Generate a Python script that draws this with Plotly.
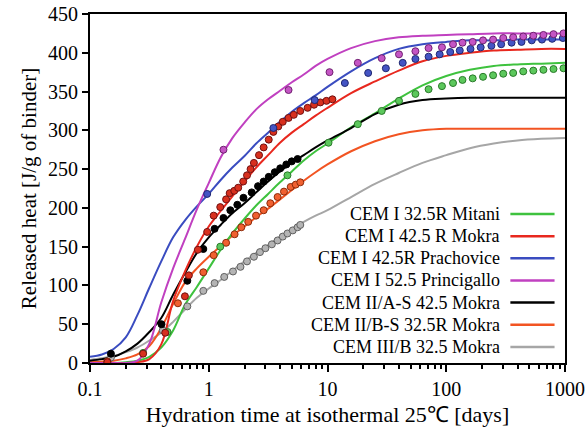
import plotly.graph_objects as go

# ---------------- data ----------------
names = ["CEM I 32.5R Mitani", "CEM I 42.5 R Mokra", "CEM I 42.5R Prachovice",
         "CEM I 52.5 Princigallo", "CEM II/A-S 42.5 Mokra", "CEM II/B-S 32.5R Mokra",
         "CEM III/B 32.5 Mokra"]
line_colors = ["#3ec23e", "#e8281e", "#3a4cc0", "#c040c0", "#000000", "#f25422", "#a6a6a6"]
fill_colors = ["#5cc85c", "#d8301e", "#4454c4", "#c455c4", "#000000", "#f06030", "#b4b4b4"]
edge_colors = ["#2a7a2a", "#701010", "#202870", "#702070", "#000000", "#8a2a0a", "#606060"]

# time grid of the model curves [days]
curve_t = [0.1, 0.126, 0.158, 0.2, 0.251, 0.316, 0.398, 0.501, 0.631, 0.794, 1, 1.26, 1.58, 2, 2.51,
           3.16, 3.98, 5.01, 6.31, 7.94, 10, 15.8, 25.1, 39.8, 63.1, 100, 158, 251, 398, 631, 1000]

# model curves (lines), released heat [J/g]
green_q = [0, 0, 0, 1, 3, 8, 20, 42, 75, 98, 122, 146, 167, 186, 203,
           218, 233, 247, 261, 273, 283, 304, 322, 341, 358, 370, 378, 383, 385, 386, 387]
red_q = [0, 0, 0, 0, 1, 5, 24, 80, 118, 150, 176, 196, 215, 234, 252,
         268, 284, 297, 308, 319, 329, 348, 363, 377, 389, 396, 400, 403, 404, 405, 405]
blue_q = [8, 11, 18, 33, 62, 97, 131, 162, 184, 202, 218, 236, 252, 267, 283,
          297, 311, 324, 335, 345, 356, 376, 393, 405, 411, 414, 416, 416, 417, 417, 417]
mag_q = [0, 0, 0, 0, 3, 25, 78, 122, 160, 198, 232, 265, 290, 310, 327,
         340, 351, 362, 372, 383, 392, 406, 415, 420, 422, 423, 424, 425, 425, 425, 425]
black_q = [3, 5, 8, 15, 25, 40, 58, 88, 116, 142, 162, 178, 193, 206, 220,
           234, 247, 258, 268, 278, 287, 303, 321, 333, 339, 341, 342, 342, 342, 342, 342]
orange_q = [1, 2, 3, 6, 11, 22, 45, 76, 104, 122, 137, 151, 164, 176, 188,
            199, 211, 223, 235, 246, 256, 273, 286, 295, 300, 302, 302, 302, 302, 302, 302]
gray_q = [4, 6, 9, 14, 20, 29, 39, 53, 69, 84, 96, 107, 119, 131, 142,
          152, 163, 173, 182, 190, 197, 214, 231, 245, 258, 268, 277, 283, 287, 289, 290]

# measurements (markers)
green_mt = [0.28, 0.45, 1.25, 4.6, 10.2, 18, 28.6, 40, 55, 71, 92, 114, 137, 167, 204, 248, 302, 366, 445, 541, 658, 800, 971]
green_mq = [13, 40, 150, 242, 284, 308, 325, 338, 347, 353, 357, 361, 365, 367, 369, 371, 373, 374, 376, 377, 378, 379, 380]

red_mt = [0.14, 0.28, 0.43, 0.63, 0.68, 0.81, 0.97, 1.1, 1.25, 1.4, 1.5, 1.64, 1.77, 1.95, 2.1, 2.25, 2.4, 2.65, 2.9, 3.2, 3.5, 3.85, 4.2, 4.7, 5.2, 5.9, 6.8, 7.7, 8.7, 9.8, 11]
red_mq = [1, 12, 39, 86, 113, 146, 169, 190, 201, 211, 219, 222, 226, 234, 242, 250, 258, 268, 278, 288, 298, 305, 311, 316, 320, 325, 329, 333, 336, 338, 340]

blue_mt = [0.97, 3.5, 7.8, 14, 22, 31, 43, 55, 71, 88, 108, 130, 160, 195, 240, 290, 355, 430, 525, 640, 780, 960]
blue_mq = [218, 303, 339, 361, 374, 380, 387, 392, 395, 398, 401, 403, 405, 407, 409, 411, 413, 414, 416, 417, 418, 419]

mag_mt = [1.33, 4.7, 10.4, 18, 28.6, 40, 55, 71, 92, 114, 137, 167, 204, 248, 302, 366, 445, 541, 658, 800, 971]
mag_mq = [275, 352, 375, 387, 393, 398, 402, 406, 407, 411, 413, 414, 416, 417, 419, 420, 421, 422, 423, 424, 425]

black_mt = [0.15, 0.4, 0.66, 0.9, 1.12, 1.33, 1.52, 1.74, 1.96, 2.3, 2.6, 2.9, 3.2, 3.6, 4.0, 4.5, 5.0, 5.6]
black_mq = [12, 50, 106, 147, 173, 187, 197, 204, 213, 220, 228, 234, 240, 246, 251, 256, 260, 263]

orange_mt = [0.14, 0.55, 0.9, 1.1, 1.4, 1.65, 1.88, 2.15, 2.5, 2.9, 3.3, 3.8, 4.3, 4.9, 5.4, 5.9]
orange_mq = [2, 77, 117, 139, 155, 166, 175, 182, 190, 197, 206, 214, 221, 227, 230, 233]

gray_mt = [0.15, 0.41, 0.66, 0.9, 1.12, 1.35, 1.6, 1.85, 2.1, 2.4, 2.7, 3.0, 3.4, 3.8, 4.2, 4.6, 5.1, 5.6, 5.9]
gray_mq = [7, 42, 73, 93, 103, 111, 118, 124, 131, 137, 143, 148, 153, 158, 163, 167, 171, 175, 178]

x_tickvals = [0.1, 1, 10, 100, 1000]
x_ticktext = ["0.1", "1", "10", "100", "1000"]
y_tickvals = [0, 50, 100, 150, 200, 250, 300, 350, 400, 450]

curves = [green_q, red_q, blue_q, mag_q, black_q, orange_q, gray_q]
marks = [(green_mt, green_mq), (red_mt, red_mq), (blue_mt, blue_mq), (mag_mt, mag_mq),
         (black_mt, black_mq), (orange_mt, orange_mq), (gray_mt, gray_mq)]

FONT = "Liberation Serif"

fig = go.Figure()
order = [6, 5, 0, 4, 1, 2, 3]
for i in order:
    fig.add_trace(go.Scatter(x=curve_t, y=curves[i], mode="lines", name=names[i],
                             line=dict(color=line_colors[i], width=2, shape="spline", smoothing=1.0),
                             showlegend=False, hoverinfo="skip"))
for i in order:
    t, q = marks[i]
    fig.add_trace(go.Scatter(x=t, y=q, mode="markers", name=names[i] + " (exp.)",
                             marker=dict(color=fill_colors[i], size=7, symbol="circle",
                                         line=dict(color=edge_colors[i], width=1)),
                             showlegend=False))

# custom legend (text right-aligned, line sample on the right)
leg_y0 = 0.427
leg_dy = 0.0635
for k, nm in enumerate(names):
    yy = leg_y0 - k * leg_dy
    fig.add_annotation(x=0.868, y=yy, xref="paper", yref="paper", text=nm,
                       showarrow=False, xanchor="right", yanchor="middle",
                       font=dict(family=FONT, size=18, color="black"))
    fig.add_shape(type="line", xref="paper", yref="paper", x0=0.885, x1=0.978, y0=yy, y1=yy,
                  line=dict(color=line_colors[k], width=2.5))

fig.update_layout(
    width=586, height=436,
    margin=dict(l=90, r=21, t=14, b=73),
    paper_bgcolor="white", plot_bgcolor="white",
    font=dict(family=FONT, size=18, color="black"),
    showlegend=False,
)
fig.update_xaxes(type="log", range=[-1, 3], tickvals=x_tickvals, ticktext=x_ticktext,
                 automargin=False,
                 ticks="outside", ticklen=7, tickwidth=2, tickcolor="black",
                 showline=True, linewidth=2, linecolor="black", mirror=True,
                 showgrid=False, zeroline=False,
                 tickfont=dict(family=FONT, size=20),
                 minor=dict(ticks="outside", ticklen=4, tickwidth=1.5, tickcolor="black", dtick="D1", showgrid=False),
                 title=dict(text="Hydration time at isothermal 25℃ [days]", font=dict(family=FONT, size=22), standoff=8))
fig.update_yaxes(range=[0, 450], tickvals=y_tickvals,
                 automargin=False,
                 ticks="outside", ticklen=6, tickwidth=2, tickcolor="black",
                 showline=True, linewidth=2, linecolor="black", mirror=True,
                 showgrid=False, zeroline=False,
                 tickfont=dict(family=FONT, size=20),
                 title=dict(text="Released heat [J/g of binder]", font=dict(family=FONT, size=21), standoff=6))

fig.write_html("out.html")
